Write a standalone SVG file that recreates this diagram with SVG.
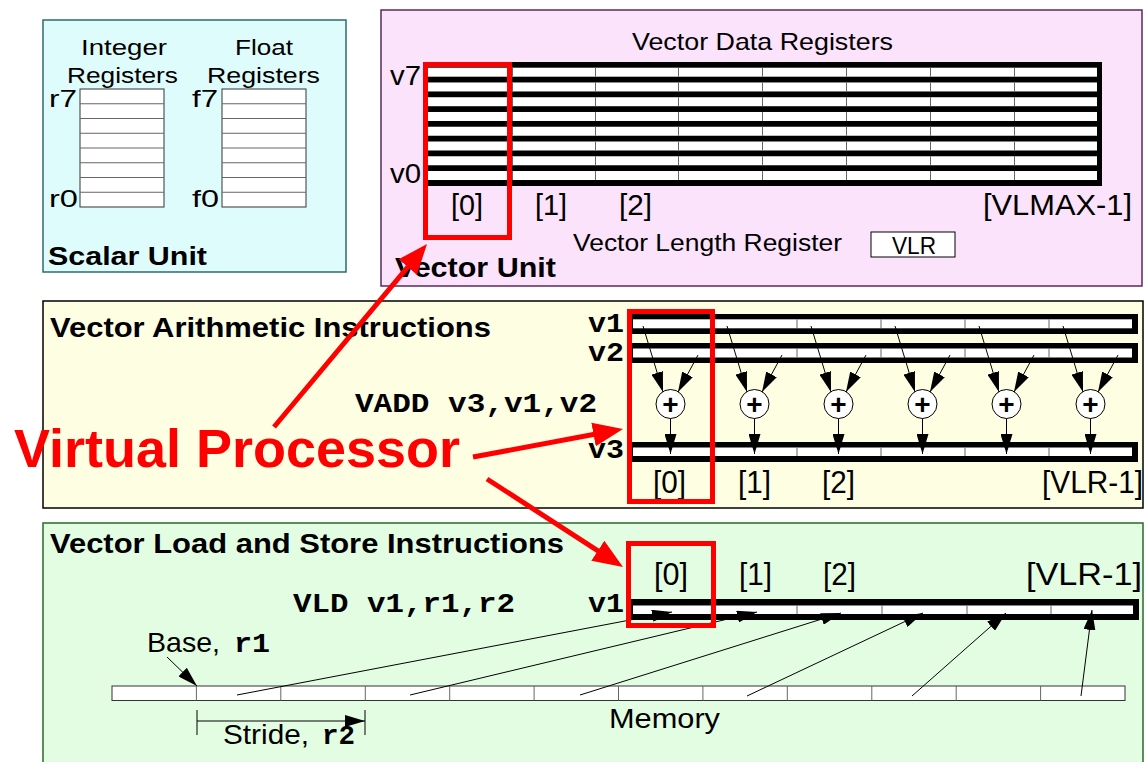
<svg xmlns="http://www.w3.org/2000/svg" width="1147" height="762" viewBox="0 0 1147 762">
<defs>
<marker id="ah" markerUnits="userSpaceOnUse" markerWidth="20" markerHeight="12" refX="20" refY="6" orient="auto"><path d="M0,0 L20,6 L0,12 z" fill="#000"/></marker>
<marker id="ahr" markerUnits="userSpaceOnUse" markerWidth="32" markerHeight="26" refX="20" refY="13" orient="auto"><path d="M0,1 L30,13 L0,25 z" fill="#f00"/></marker>
</defs>
<style>
.t{font-family:"Liberation Sans",Arial,sans-serif;fill:#000}
.b{font-family:"Liberation Sans",Arial,sans-serif;font-weight:bold;fill:#000}
.m{font-family:"Liberation Mono","Courier New",monospace;font-weight:bold;fill:#000}
.cell{fill:#fff;stroke:#333;stroke-width:1}
.sep{stroke:#666;stroke-width:1;fill:none}
.ar{stroke:#000;stroke-width:1;fill:none;marker-end:url(#ah)}
.red{stroke:#f00;stroke-width:5;fill:none}
.redbox{stroke:#f00;stroke-width:5;fill:none}
.bar{fill:#000}
.wh{fill:#fff}
.add{fill:#fff;stroke:#000;stroke-width:1}
</style>
<rect width="1147" height="762" fill="#fff"/>

<g id="scalar-unit">
<rect x="43" y="20" width="303" height="252" fill="#dffcfc" stroke="#2f6b6b" stroke-width="1.5"/>
<text class="t" x="81" y="55" font-size="22" textLength="86" lengthAdjust="spacingAndGlyphs">Integer</text>
<text class="t" x="67" y="83" font-size="22" textLength="111" lengthAdjust="spacingAndGlyphs">Registers</text>
<text class="t" x="235" y="55" font-size="22" textLength="58" lengthAdjust="spacingAndGlyphs">Float</text>
<text class="t" x="207" y="83" font-size="22" textLength="113" lengthAdjust="spacingAndGlyphs">Registers</text>
<text class="t" x="49" y="107" font-size="24" textLength="28" lengthAdjust="spacingAndGlyphs">r7</text>
<text class="t" x="49" y="207" font-size="24" textLength="29" lengthAdjust="spacingAndGlyphs">r0</text>
<text class="t" x="192" y="107" font-size="24" textLength="26" lengthAdjust="spacingAndGlyphs">f7</text>
<text class="t" x="192" y="207" font-size="24" textLength="27" lengthAdjust="spacingAndGlyphs">f0</text>
<rect class="cell" x="80" y="89" width="84" height="118"/>
<path class="sep" stroke="#333" d="M80,103.75H164M80,118.5H164M80,133.25H164M80,148H164M80,162.75H164M80,177.5H164M80,192.25H164"/>
<rect class="cell" x="222" y="89" width="84" height="118"/>
<path class="sep" stroke="#333" d="M222,103.75H306M222,118.5H306M222,133.25H306M222,148H306M222,162.75H306M222,177.5H306M222,192.25H306"/>
<text class="b" x="48" y="265" font-size="25" textLength="159" lengthAdjust="spacingAndGlyphs">Scalar Unit</text>
</g>

<g id="vector-unit">
<rect x="381" y="10" width="761" height="276" fill="#fce3fc" stroke="#5a2a5a" stroke-width="1.5"/>
<text class="t" x="632" y="50" font-size="24" textLength="261" lengthAdjust="spacingAndGlyphs">Vector Data Registers</text>
<text class="t" x="390" y="85" font-size="28" textLength="31" lengthAdjust="spacingAndGlyphs">v7</text>
<text class="t" x="390" y="183" font-size="28" textLength="31" lengthAdjust="spacingAndGlyphs">v0</text>
<rect class="bar" x="423" y="62" width="679" height="124"/>
<g class="wh">
<rect x="428" y="67.7" width="669" height="9"/>
<rect x="428" y="82.46" width="669" height="9"/>
<rect x="428" y="97.22" width="669" height="9"/>
<rect x="428" y="111.98" width="669" height="9"/>
<rect x="428" y="126.74" width="669" height="9"/>
<rect x="428" y="141.5" width="669" height="9"/>
<rect x="428" y="156.26" width="669" height="9"/>
<rect x="428" y="171.02" width="669" height="9"/>
</g>
<path class="sep" stroke-dasharray="9 5.76" d="M512.5,67.7V181M595.5,67.7V181M678.5,67.7V181M762.5,67.7V181M846.5,67.7V181M930.5,67.7V181M1014.5,67.7V181"/>
<text class="t" x="451" y="215" font-size="30" textLength="32" lengthAdjust="spacingAndGlyphs">[0]</text>
<text class="t" x="535" y="215" font-size="30" textLength="32" lengthAdjust="spacingAndGlyphs">[1]</text>
<text class="t" x="619" y="215" font-size="30" textLength="33" lengthAdjust="spacingAndGlyphs">[2]</text>
<text class="t" x="983" y="215" font-size="30" textLength="149" lengthAdjust="spacingAndGlyphs">[VLMAX-1]</text>
<text class="t" x="573" y="251" font-size="23" textLength="269" lengthAdjust="spacingAndGlyphs">Vector Length Register</text>
<rect x="871" y="232" width="84" height="25" fill="#fff" stroke="#000" stroke-width="1"/>
<text class="t" x="892" y="254" font-size="24" textLength="44" lengthAdjust="spacingAndGlyphs">VLR</text>
<text class="b" x="395" y="277" font-size="28" textLength="161" lengthAdjust="spacingAndGlyphs">Vector Unit</text>
</g>

<g id="vector-arithmetic">
<rect x="43" y="301" width="1100" height="207" fill="#fefee3" stroke="#000" stroke-width="1.5"/>
<text class="b" x="50" y="337" font-size="27" textLength="441" lengthAdjust="spacingAndGlyphs">Vector Arithmetic Instructions</text>
<text class="m" x="588" y="332" font-size="27" textLength="36" lengthAdjust="spacingAndGlyphs">v1</text>
<text class="m" x="588" y="361" font-size="27" textLength="36" lengthAdjust="spacingAndGlyphs">v2</text>
<text class="m" x="588" y="458" font-size="27" textLength="36" lengthAdjust="spacingAndGlyphs">v3</text>
<text class="m" x="355" y="412" font-size="28" textLength="242" lengthAdjust="spacingAndGlyphs">VADD v3,v1,v2</text>
<rect class="bar" x="631" y="314" width="507" height="20"/>
<rect class="wh" x="633" y="319.3" width="499" height="9"/>
<rect class="bar" x="631" y="343" width="507" height="20"/>
<rect class="wh" x="633" y="348.5" width="499" height="9"/>
<rect class="bar" x="631" y="442" width="507" height="20"/>
<rect class="wh" x="633" y="447.5" width="499" height="8.5"/>
<path class="sep" d="M713,319.3v9M797,319.3v9M881,319.3v9M965,319.3v9M1049,319.3v9M713,348.5v9M797,348.5v9M881,348.5v9M965,348.5v9M1049,348.5v9M713,447.5v8.5M797,447.5v8.5M881,447.5v8.5M965,447.5v8.5M1049,447.5v8.5"/>
<g class="add">
<circle cx="670.5" cy="404" r="14.5"/>
<circle cx="754.5" cy="404" r="14.5"/>
<circle cx="838.5" cy="404" r="14.5"/>
<circle cx="922.5" cy="404" r="14.5"/>
<circle cx="1006.5" cy="404" r="14.5"/>
<circle cx="1090.5" cy="404" r="14.5"/>
</g>
<g class="b" font-size="28" text-anchor="middle">
<text x="670.5" y="413.5">+</text>
<text x="754.5" y="413.5">+</text>
<text x="838.5" y="413.5">+</text>
<text x="922.5" y="413.5">+</text>
<text x="1006.5" y="413.5">+</text>
<text x="1090.5" y="413.5">+</text>
</g>
<text class="t" x="653" y="493" font-size="31" textLength="33" lengthAdjust="spacingAndGlyphs">[0]</text>
<text class="t" x="738" y="493" font-size="31" textLength="33" lengthAdjust="spacingAndGlyphs">[1]</text>
<text class="t" x="822" y="493" font-size="31" textLength="33" lengthAdjust="spacingAndGlyphs">[2]</text>
<text class="t" x="1042" y="493" font-size="31" textLength="101" lengthAdjust="spacingAndGlyphs">[VLR-1]</text>
</g>

<g id="vector-load-store">
<rect x="43" y="523" width="1100" height="245" fill="#e3fde3" stroke="#2a6a2a" stroke-width="1.5"/>
<text class="b" x="50" y="553" font-size="27" textLength="514" lengthAdjust="spacingAndGlyphs">Vector Load and Store Instructions</text>
<text class="t" x="654" y="585" font-size="31" textLength="34" lengthAdjust="spacingAndGlyphs">[0]</text>
<text class="t" x="739" y="585" font-size="31" textLength="33" lengthAdjust="spacingAndGlyphs">[1]</text>
<text class="t" x="823" y="585" font-size="31" textLength="33" lengthAdjust="spacingAndGlyphs">[2]</text>
<text class="t" x="1026" y="585" font-size="31" textLength="116" lengthAdjust="spacingAndGlyphs">[VLR-1]</text>
<text class="m" x="293" y="612" font-size="28" textLength="222" lengthAdjust="spacingAndGlyphs">VLD v1,r1,r2</text>
<text class="m" x="588" y="612" font-size="27" textLength="36" lengthAdjust="spacingAndGlyphs">v1</text>
<rect class="bar" x="631" y="599" width="508" height="21"/>
<rect class="wh" x="633" y="605.5" width="500" height="8.5"/>
<path class="sep" d="M713,605.5v8.5M797,605.5v8.5M882,605.5v8.5M967,605.5v8.5M1051,605.5v8.5"/>
<text class="t" x="147" y="652" font-size="28" textLength="73" lengthAdjust="spacingAndGlyphs">Base,</text>
<text class="m" x="234" y="652" font-size="28" textLength="36" lengthAdjust="spacingAndGlyphs">r1</text>
<rect class="cell" x="112" y="686" width="1013" height="14.5"/>
<path class="sep" stroke="#333" d="M196.4,686v14.5M280.8,686v14.5M365.3,686v14.5M449.7,686v14.5M534.1,686v14.5M618.5,686v14.5M702.9,686v14.5M787.3,686v14.5M871.8,686v14.5M956.2,686v14.5M1040.6,686v14.5"/>
<text class="t" x="609" y="728" font-size="28" textLength="111" lengthAdjust="spacingAndGlyphs">Memory</text>
<path stroke="#000" stroke-width="1" fill="none" d="M197,710V735M365,710V735"/>
<text class="t" x="223" y="744" font-size="28" textLength="86" lengthAdjust="spacingAndGlyphs">Stride,</text>
<text class="m" x="322" y="744" font-size="28" textLength="33" lengthAdjust="spacingAndGlyphs">r2</text>
</g>

<g id="connectors">
<line class="ar" x1="643" y1="326" x2="663" y2="392"/>
<line class="ar" x1="698" y1="355" x2="678" y2="392"/>
<line class="ar" x1="670.5" y1="418.5" x2="670.5" y2="454"/>
<line class="ar" x1="727" y1="326" x2="747" y2="392"/>
<line class="ar" x1="782" y1="355" x2="762" y2="392"/>
<line class="ar" x1="754.5" y1="418.5" x2="754.5" y2="454"/>
<line class="ar" x1="811" y1="326" x2="831" y2="392"/>
<line class="ar" x1="866" y1="355" x2="846" y2="392"/>
<line class="ar" x1="838.5" y1="418.5" x2="838.5" y2="454"/>
<line class="ar" x1="895" y1="326" x2="915" y2="392"/>
<line class="ar" x1="950" y1="355" x2="930" y2="392"/>
<line class="ar" x1="922.5" y1="418.5" x2="922.5" y2="454"/>
<line class="ar" x1="979" y1="326" x2="999" y2="392"/>
<line class="ar" x1="1034" y1="355" x2="1014" y2="392"/>
<line class="ar" x1="1006.5" y1="418.5" x2="1006.5" y2="454"/>
<line class="ar" x1="1063" y1="326" x2="1083" y2="392"/>
<line class="ar" x1="1118" y1="355" x2="1098" y2="392"/>
<line class="ar" x1="1090.5" y1="418.5" x2="1090.5" y2="454"/>
<line class="ar" x1="237" y1="695" x2="672" y2="612"/>
<line class="ar" x1="410" y1="695" x2="757" y2="612"/>
<line class="ar" x1="580" y1="695" x2="841" y2="613"/>
<line class="ar" x1="747" y1="696" x2="923" y2="613"/>
<line class="ar" x1="912" y1="696" x2="1006" y2="613"/>
<line class="ar" x1="1081" y1="696" x2="1092" y2="610"/>
<line class="ar" x1="167" y1="657" x2="197" y2="686"/>
<line class="ar" x1="197" y1="721" x2="365" y2="721"/>
</g>

<g id="virtual-processor">
<rect class="redbox" x="425.5" y="64.5" width="84" height="173"/>
<rect class="redbox" x="629.5" y="311.5" width="83" height="190"/>
<rect class="redbox" x="628.5" y="543.5" width="85" height="82"/>
<line class="red" x1="274" y1="427" x2="420.6" y2="251.7" marker-end="url(#ahr)"/>
<line class="red" x1="473" y1="457" x2="613.2" y2="430.8" marker-end="url(#ahr)"/>
<line class="red" x1="487" y1="479" x2="614.6" y2="561.6" marker-end="url(#ahr)"/>
<text x="14" y="467" font-family="Liberation Sans, Arial, sans-serif" font-weight="bold" font-size="53" fill="#f00" textLength="446" lengthAdjust="spacingAndGlyphs">Virtual Processor</text>
</g>
</svg>
